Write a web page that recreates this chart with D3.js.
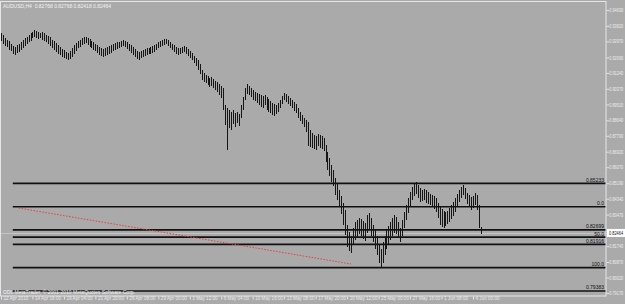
<!DOCTYPE html>
<html>
<head>
<meta charset="utf-8">
<script src="https://cdn.jsdelivr.net/npm/d3@7"></script>
<style>
  body { margin: 0; background: #aaaaaa; }
  svg { display: block; font-family: "Liberation Sans", Arial, sans-serif; }
</style>
</head>
<body>
<svg id="chart"></svg>
<script>
// AUDUSD H4, 12 Apr - 4 Jun 2010
var symbolTitle = "AUDUSD,H4  0.82768 0.82768 0.82418 0.82464";
var copyright = "ODL MetaTrader, \u00a9 2001-2010 MetaQuotes Software Corp.";

var priceTicks = [0.79170, 0.80020, 0.80870, 0.81740, 0.82590, 0.83470, 0.84340, 0.85190, 0.86070, 0.86920,
                  0.87790, 0.88640, 0.89510, 0.90370, 0.91240, 0.92090, 0.92970, 0.93820, 0.94690];

var dateTicks = [0, 16, 32, 48, 64, 80, 96, 112, 128, 144, 160, 176, 192, 208, 224, 240];
var dateLabels = ["12 Apr 2010", "14 Apr 16:00", "19 Apr 04:00", "21 Apr 20:00", "26 Apr 08:00", "29 Apr 00:00",
                  "3 May 12:00", "6 May 04:00", "10 May 16:00", "13 May 08:00", "17 May 20:00", "20 May 12:00",
                  "25 May 00:00", "27 May 16:00", "1 Jun 08:00", "4 Jun 00:00"];

// bar highs / lows, one per H4 bar
var highs = [
  .9344,.9333,.9316,.9305,.9300,.9283,.9272,.9267,.9278,.9283,
  .9294,.9305,.9316,.9322,.9333,.9344,.9349,.9360,.9355,.9349,
  .9344,.9349,.9344,.9333,.9327,.9322,.9305,.9300,.9289,.9278,
  .9267,.9256,.9250,.9239,.9234,.9245,.9261,.9278,.9289,.9300,
  .9305,.9316,.9322,.9322,.9316,.9311,.9300,.9294,.9283,.9278,
  .9267,.9261,.9256,.9261,.9267,.9272,.9278,.9283,.9289,.9294,
  .9294,.9300,.9305,.9300,.9294,.9283,.9278,.9267,.9256,.9245,
  .9239,.9245,.9250,.9256,.9261,.9261,.9267,.9272,.9278,.9283,
  .9294,.9300,.9305,.9311,.9311,.9305,.9294,.9283,.9278,.9267,
  .9261,.9261,.9267,.9272,.9267,.9256,.9245,.9234,.9217,.9206,
  .9195,.9173,.9140,.9124,.9113,.9107,.9096,.9102,.9091,.9080,
  .9074,.9063,.9052,.9041,.8948,.8931,.8920,.8909,.8920,.8904,
  .8909,.8898,.8948,.8992,.9041,.9063,.9052,.9041,.9030,.9019,
  .9014,.9008,.9003,.8997,.9003,.8992,.8981,.8970,.8959,.8953,
  .8948,.8959,.8975,.8997,.9014,.9008,.8997,.8986,.8975,.8964,
  .8953,.8931,.8909,.8893,.8876,.8865,.8854,.8810,.8794,.8783,
  .8777,.8788,.8783,.8777,.8766,.8728,.8689,.8656,.8618,.8590,
  .8546,.8519,.8480,.8447,.8409,.8370,.8288,.8249,.8227,.8271,
  .8304,.8315,.8326,.8321,.8310,.8299,.8343,.8354,.8326,.8288,
  .8260,.8227,.8183,.8161,.8194,.8227,.8260,.8282,.8304,.8326,
  .8343,.8332,.8304,.8271,.8315,.8359,.8398,.8436,.8469,.8497,
  .8513,.8524,.8508,.8491,.8480,.8486,.8480,.8469,.8458,.8453,
  .8447,.8436,.8409,.8387,.8376,.8365,.8359,.8365,.8381,.8398,
  .8414,.8436,.8458,.8480,.8497,.8508,.8491,.8464,.8453,.8442,
  .8447,.8464,.8453,.8398,.82768
];
var lows = [
  .9300,.9283,.9272,.9267,.9250,.9245,.9228,.9223,.9234,.9239,
  .9250,.9261,.9272,.9283,.9294,.9300,.9316,.9322,.9316,.9311,
  .9316,.9305,.9300,.9294,.9283,.9272,.9261,.9250,.9239,.9228,
  .9223,.9212,.9206,.9201,.9195,.9201,.9212,.9228,.9245,.9261,
  .9267,.9278,.9283,.9289,.9278,.9267,.9261,.9250,.9245,.9234,
  .9223,.9217,.9212,.9217,.9223,.9228,.9234,.9245,.9250,.9256,
  .9261,.9267,.9272,.9267,.9256,.9245,.9234,.9223,.9212,.9201,
  .9195,.9206,.9212,.9217,.9223,.9228,.9228,.9234,.9239,.9250,
  .9261,.9267,.9272,.9278,.9283,.9272,.9261,.9250,.9239,.9228,
  .9223,.9228,.9234,.9239,.9228,.9217,.9206,.9195,.9179,.9162,
  .9140,.9118,.9085,.9074,.9069,.9058,.9047,.9052,.9041,.9030,
  .9019,.9003,.8986,.8920,.8838,.8700,.8821,.8810,.8843,.8827,
  .8849,.8832,.8876,.8920,.8975,.9008,.9003,.8992,.8975,.8970,
  .8959,.8948,.8937,.8931,.8948,.8920,.8909,.8904,.8893,.8887,
  .8898,.8909,.8931,.8953,.8975,.8964,.8953,.8942,.8931,.8915,
  .8904,.8876,.8860,.8843,.8827,.8799,.8722,.8717,.8711,.8706,
  .8700,.8722,.8711,.8706,.8695,.8634,.8590,.8557,.8524,.8502,
  .8453,.8425,.8387,.8348,.8288,.8233,.8172,.8150,.8139,.8178,
  .8205,.8222,.8238,.8227,.8211,.8200,.8244,.8260,.8227,.8194,
  .8161,.8123,.8084,.8062,.8084,.8123,.8161,.8183,.8205,.8227,
  .8244,.8238,.8216,.8194,.8227,.8271,.8315,.8354,.8392,.8425,
  .8447,.8458,.8436,.8414,.8420,.8425,.8409,.8403,.8398,.8392,
  .8376,.8359,.8326,.8288,.8277,.8271,.8282,.8293,.8304,.8321,
  .8337,.8359,.8392,.8414,.8436,.8453,.8431,.8403,.8387,.8370,
  .8381,.8398,.8370,.8271,.82418
];

var bidPrice = 0.82464;
var bidLabel = "0.82464";

// fibonacci levels (drawn from bar 6 to the right edge)
var fibStart = 6;
var fibPrices = [0.8518, 0.8390, 0.8263, 0.8223, 0.8184, 0.8056, 0.7928];
var fibLabels = ["0.85233", "0.0", "0.82699", "50.0", "0.81916", "100.0", "0.79383"];

// red dotted trend line: [bar index, price]
var trendPoints = [[9, 0.8383], [178, 0.8076]];

var W = 625, H = 304;
var plotRight = 606, plotTop = 1.5, plotBottom = 296;
var fontSize = "5px";
var squeeze = "scale(0.78,1)";   // price labels are narrow in the terminal

var svg = d3.select("#chart").attr("width", W).attr("height", H);

svg.append("rect").attr("width", W).attr("height", H).attr("fill", "#aaaaaa");

var x = d3.scaleLinear().domain([0, 240]).range([1, 473]);
var y = d3.scaleLinear().domain([0.79170, 0.94690]).range([293, 10]);

// bid line
svg.append("line")
    .attr("x1", 0).attr("x2", plotRight)
    .attr("y1", Math.round(y(bidPrice)) + 0.5).attr("y2", Math.round(y(bidPrice)) + 0.5)
    .attr("stroke", "#c4c4c4").attr("stroke-width", 1);

// fib levels
var fibG = svg.append("g").attr("class", "fib");
fibG.selectAll("line").data(fibPrices).enter().append("line")
    .attr("x1", x(fibStart)).attr("x2", plotRight)
    .attr("y1", function (d) { return y(d); })
    .attr("y2", function (d) { return y(d); })
    .attr("stroke", "#111").attr("stroke-width", 1.7);
fibG.selectAll("text").data(fibPrices).enter().append("text")
    .attr("x", plotRight - 2)
    .attr("y", function (d) { return y(d) - 1.5; })
    .attr("text-anchor", "end")
    .attr("font-size", fontSize)
    .attr("fill", "#111")
    .text(function (d, i) { return fibLabels[i]; });

// trend line
svg.append("line")
    .attr("x1", x(trendPoints[0][0])).attr("y1", y(trendPoints[0][1]))
    .attr("x2", x(trendPoints[1][0])).attr("y2", y(trendPoints[1][1]))
    .attr("stroke", "#e8403c").attr("stroke-width", 1)
    .attr("stroke-dasharray", "1.5,1.5");

// bars
svg.append("g").attr("class", "bars")
    .attr("shape-rendering", "crispEdges")
    .selectAll("line").data(highs).enter().append("line")
    .attr("x1", function (d, i) { return Math.round(x(i)) + 0.5; })
    .attr("x2", function (d, i) { return Math.round(x(i)) + 0.5; })
    .attr("y1", function (d) { return y(d); })
    .attr("y2", function (d, i) { return y(lows[i]); })
    .attr("stroke", "#151515").attr("stroke-width", 1);

// frame
svg.append("rect")
    .attr("x", 0.5).attr("y", plotTop)
    .attr("width", plotRight - 0.5).attr("height", plotBottom - plotTop)
    .attr("fill", "none").attr("stroke", "#e6e6e6").attr("stroke-width", 1);

// price axis
var yAxis = svg.append("g")
    .attr("transform", "translate(" + (plotRight + 0.5) + ",0)")
    .call(d3.axisRight(y).tickValues(priceTicks).tickSize(2.5).tickPadding(1)
        .tickFormat(d3.format(".5f")));
yAxis.select(".domain").remove();
yAxis.selectAll("line").attr("stroke", "#e6e6e6");
yAxis.selectAll("text").attr("font-size", fontSize).attr("fill", "#ececec")
    .attr("font-family", "Liberation Sans, Arial, sans-serif")
    .attr("transform", squeeze);
yAxis.selectAll(".tick")
    .filter(function (d) { return Math.abs(y(d) - y(bidPrice)) < 6; })
    .select("text").remove();

// bid price box
svg.append("rect")
    .attr("x", plotRight + 1).attr("y", y(bidPrice) - 4)
    .attr("width", W - plotRight).attr("height", 8)
    .attr("fill", "#ffffff");
svg.append("g")
    .attr("transform", "translate(" + (plotRight + 3) + "," + (y(bidPrice) + 1.8) + ")")
    .append("text")
    .attr("transform", squeeze)
    .attr("font-size", fontSize).attr("fill", "#111")
    .text(bidLabel);

// time axis
var xAxis = svg.append("g")
    .attr("transform", "translate(0," + (plotBottom + 0.5) + ")")
    .call(d3.axisBottom(x).tickValues(dateTicks).tickSize(3).tickPadding(0)
        .tickFormat(function (d, i) { return dateLabels[i]; }));
xAxis.select(".domain").remove();
xAxis.selectAll("line").attr("stroke", "#e6e6e6");
xAxis.selectAll("text")
    .attr("text-anchor", "start").attr("dx", 2).attr("dy", "0.2em")
    .attr("font-size", "4.6px").attr("fill", "#ececec")
    .attr("font-family", "Liberation Sans, Arial, sans-serif");

// titles
svg.append("text").attr("x", 3).attr("y", 7.5)
    .attr("font-size", fontSize).attr("fill", "#f2f2f2")
    .style("white-space", "pre")
    .text(symbolTitle);
svg.append("text").attr("x", 3).attr("y", 293.5)
    .attr("font-size", fontSize).attr("fill", "#f2f2f2")
    .text(copyright);
</script>
</body>
</html>
